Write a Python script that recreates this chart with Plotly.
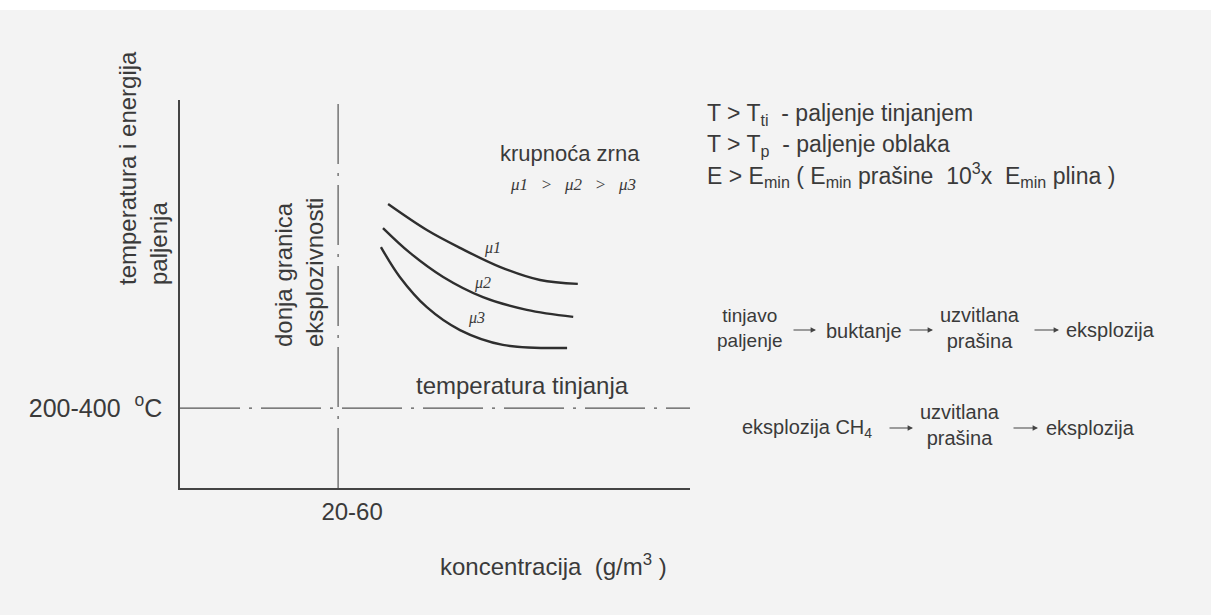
import plotly.graph_objects as go

# ignition temperature curves for three grain sizes (mu1 > mu2 > mu3)
mu1_x = [4.08, 4.84, 5.49, 6.27, 7.06, 7.80]
mu1_y = [7.32, 6.65, 6.19, 5.70, 5.36, 5.26]
mu2_x = [3.98, 4.51, 5.16, 5.94, 6.80, 7.71]
mu2_y = [6.70, 6.06, 5.44, 4.92, 4.59, 4.41]
mu3_x = [3.94, 4.31, 4.84, 5.49, 6.33, 7.59]
mu3_y = [6.21, 5.44, 4.66, 4.07, 3.69, 3.61]

# reference levels
lower_limit_x = 3.1      # donja granica eksplozivnosti, 20-60 g/m3
smoulder_temp_y = 2.06   # temperatura tinjanja, 200-400 °C
x_range = [0, 10]
y_range = [0, 10]
x_tick_text = ["20-60"]
y_tick_text = ["200-400&nbsp;&nbsp;<sup>o</sup>C"]

# plot box in pixels
L, R, T, B = 180, 690, 100, 488
W, H = 1211, 615


def at(px, py):
    # pixel position -> paper coordinates (for placing text)
    return (px - L) / (R - L), (B - py) / (B - T)


INK = "#3a3a3a"
SANS = "Liberation Sans, Arial, sans-serif"
SERIF = "Liberation Serif, Times New Roman, serif"

fig = go.Figure()

dashdot = "60px,9px,3px,9px"
fig.add_trace(go.Scatter(x=[lower_limit_x] * 2, y=y_range, mode="lines",
                         line=dict(color="#555", width=1.2, dash=dashdot)))
fig.add_trace(go.Scatter(x=x_range, y=[smoulder_temp_y] * 2, mode="lines",
                         line=dict(color="#555", width=1.2, dash=dashdot)))

for xs, ys in [(mu1_x, mu1_y), (mu2_x, mu2_y), (mu3_x, mu3_y)]:
    fig.add_trace(go.Scatter(x=xs, y=ys, mode="lines", line_shape="spline",
                             line=dict(color="#2e2e2e", width=2.4)))

annotations = []


def text(px, py, s, size=22, anchor="center", family=SANS, angle=0, align="center"):
    x, y = at(px, py)
    annotations.append(dict(x=x, y=y, xref="paper", yref="paper", text=s, showarrow=False,
                            xanchor=anchor, yanchor="middle", textangle=angle, align=align,
                            font=dict(size=size, family=family, color=INK)))


def arrow(px0, px1, py):
    x, y = at(px1, py)
    annotations.append(dict(x=x, y=y, xref="paper", yref="paper", text="", showarrow=True,
                            ax=px0 - px1, ay=0, arrowhead=2, arrowsize=0.9,
                            arrowwidth=1.2, arrowcolor="#444"))


# axis titles and labels
text(143, 168, "temperatura i energija<br>paljenja", size=24, angle=-90, align="left")
text(299, 273, "donja granica<br>eksplozivnosti", size=24, angle=-90, align="left")
text(553, 565, "koncentracija  (g/m<sup>3</sup> )", size=24)
text(522, 385, "temperatura tinjanja", size=24)

# grain size
text(570, 153, "krupnoća zrna", size=22)
text(573, 184, "<i>μ1&nbsp;&nbsp;&nbsp;>&nbsp;&nbsp;&nbsp;μ2&nbsp;&nbsp;&nbsp;>&nbsp;&nbsp;&nbsp;μ3</i>",
     size=17, family=SERIF)
text(492, 248, "<i>μ1</i>", size=16, family=SERIF)
text(482, 283, "<i>μ2</i>", size=16, family=SERIF)
text(476, 318, "<i>μ3</i>", size=16, family=SERIF)

# conditions
text(705, 115, "T > T<sub>ti</sub>  - paljenje tinjanjem", size=23, anchor="left")
text(705, 145, "T > T<sub>p</sub>  - paljenje oblaka", size=23, anchor="left")
text(705, 175, "E > E<sub>min</sub> ( E<sub>min</sub> prašine  10<sup>3</sup>x  E<sub>min</sub> plina )",
     size=23, anchor="left")

# sequence 1
text(750, 328, "tinjavo<br>paljenje", size=19)
arrow(792, 816, 330)
text(864, 331, "buktanje", size=20)
arrow(908, 933, 330)
text(980, 328, "uzvitlana<br>prašina", size=20)
arrow(1033, 1059, 330)
text(1110, 330, "eksplozija", size=20)

# sequence 2
text(807, 428, "eksplozija CH<sub>4</sub>", size=20)
arrow(888, 913, 428)
text(960, 425, "uzvitlana<br>prašina", size=20)
arrow(1012, 1038, 428)
text(1090, 428, "eksplozija", size=20)

# white strip at the top of the scanned page
fig.add_shape(type="rect", xref="paper", yref="paper",
              x0=-L / (R - L), x1=(W - L) / (R - L),
              y0=(B - 10) / (B - T), y1=B / (B - T) + 0.01,
              fillcolor="white", line_width=0, layer="below")

fig.update_layout(
    width=W, height=H, autosize=False,
    margin=dict(l=L, r=W - R, t=T, b=H - B),
    paper_bgcolor="#f3f3f3", plot_bgcolor="#f3f3f3",
    showlegend=False,
    annotations=annotations,
    xaxis=dict(range=x_range, showline=True, linecolor="#444", linewidth=1.5,
               showgrid=False, zeroline=False, ticks="",
               tickvals=[lower_limit_x], ticktext=x_tick_text,
               ticklabelstandoff=1, ticklabelshift=14,
               tickfont=dict(size=24, family=SANS, color=INK)),
    yaxis=dict(range=y_range, showline=True, linecolor="#444", linewidth=1.5,
               showgrid=False, zeroline=False, ticks="",
               tickvals=[smoulder_temp_y], ticktext=y_tick_text, ticklabelstandoff=11,
               tickfont=dict(size=25, family=SANS, color=INK)),
)

fig.write_html("out.html", config={"displayModeBar": False},
               post_script="document.body.style.margin='0';")
